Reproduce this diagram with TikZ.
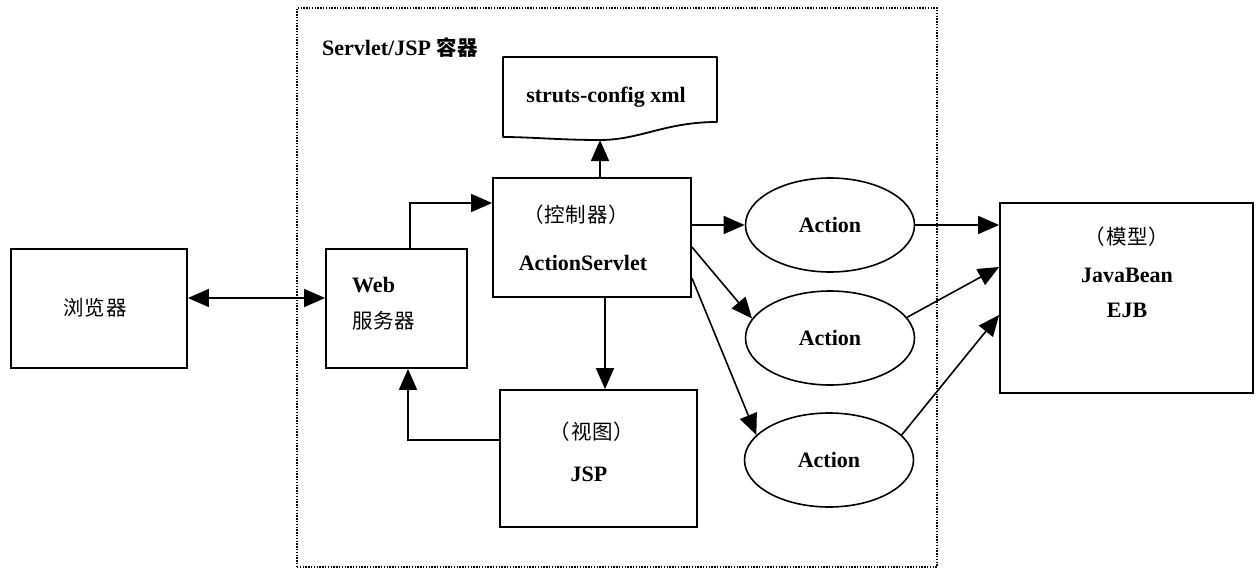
\documentclass[tikz,border=0pt]{standalone}
\usepackage{fontspec}
\setmainfont{Liberation Serif}
\newfontfamily\cjk{Noto Sans CJK SC}[LetterSpace=4]
\usetikzlibrary{arrows.meta,shapes.geometric}

\begin{document}
\begin{tikzpicture}[x=1pt,y=-1pt,
  box/.style={draw,line width=1.8pt,rectangle,inner sep=0pt},
  act/.style={draw,line width=1.6pt,ellipse,minimum width=169pt,minimum height=94pt,inner sep=0pt,font=\bfseries\fontsize{22pt}{26pt}\selectfont},
  txt/.style={inner sep=0pt,font=\bfseries\fontsize{22pt}{26pt}\selectfont},
  ctxt/.style={inner sep=0pt,font=\cjk\fontsize{20.5pt}{24pt}\selectfont},
  flow/.style={line width=1.6pt,-{Triangle[length=21pt,width=18pt]}},
  both/.style={line width=1.6pt,{Triangle[length=21pt,width=18pt]}-{Triangle[length=21pt,width=18pt]}},
]
\useasboundingbox (0,0) rectangle (1258,575);

% container
\node[draw,line width=1.1pt,dash pattern=on 1.4pt off 1.4pt,minimum width=640pt,minimum height=559pt,inner sep=0pt] (ctr) at (617,287.5) {};
\node[anchor=west,inner sep=0pt] (ctrtitle) at (322,48) {\bfseries\fontsize{22pt}{26pt}\selectfont Servlet/JSP {\cjk\fontsize{20.5pt}{24pt}\selectfont 容器}};

% configuration document
\draw[line width=1.8pt,line join=round] (503,57) -- (717,57) -- (717,122)
  .. controls (665,122) and (640,140) .. (600,140)
  .. controls (560,140) and (530,137) .. (503,137) -- cycle;
\node[txt] (cfg) at (606,97) {struts-config xml};
\coordinate (cfgb) at (600,140);

% boxes
\node[box,minimum width=176pt,minimum height=119pt] (br) at (99,308.5) {};
\node[ctxt] (brt) at (95,308) {浏览器};

\node[box,minimum width=141pt,minimum height=119pt] (web) at (396.5,308.5) {};
\node[txt,anchor=west] (webt1) at (352,285) {Web};
\node[ctxt,anchor=west] (webt2) at (352,321) {服务器};

\node[box,minimum width=198pt,minimum height=119pt] (as) at (592,237.5) {};
\node[ctxt] (ast1) at (576,215) {（控制器）};
\node[txt] (ast2) at (583,263) {ActionServlet};

\node[box,minimum width=197pt,minimum height=137pt] (jsp) at (598.5,458.5) {};
\node[ctxt] (jspt1) at (592,432) {（视图）};
\node[txt] (jspt2) at (589,474) {JSP};

\node[box,minimum width=253pt,minimum height=190pt] (mdl) at (1126.5,298) {};
\node[ctxt] (mdlt1) at (1127,237) {（模型）};
\node[txt] (mdlt2) at (1127,275) {JavaBean};
\node[txt] (mdlt3) at (1127,310) {EJB};

% actions
\node[act] (a1) at (830,225) {Action};
\node[act] (a2) at (830,338) {Action};
\node[act] (a3) at (829,460) {Action};

% connectors
\draw[both] ([yshift=10.5pt]br.east) -- ([yshift=10.5pt]web.west);
\draw[flow] ([xshift=13.5pt]web.north) |- ([yshift=34.5pt]as.west);
\draw[flow] ([xshift=8pt]as.north) -- (cfgb);
\draw[flow] ([xshift=13pt]as.south) -- ([xshift=6.5pt]jsp.north);
\draw[flow] ([yshift=18.5pt]jsp.west) -| ([xshift=11.5pt]web.south);

\draw[flow] ([yshift=12.5pt]as.east) -- (a1.west);
\draw[flow] ([yshift=-9.5pt]as.east) -- (a2.166);
\draw[flow] ([yshift=-40.5pt]as.east) -- (a3.161);

\draw[flow] (a1.east) -- (mdl.west |- a1.east);
\draw[flow] (a2.15) -- ([yshift=31pt]mdl.west);
\draw[flow] (a3.19) -- ([yshift=-17pt]mdl.west);
\end{tikzpicture}
\end{document}
